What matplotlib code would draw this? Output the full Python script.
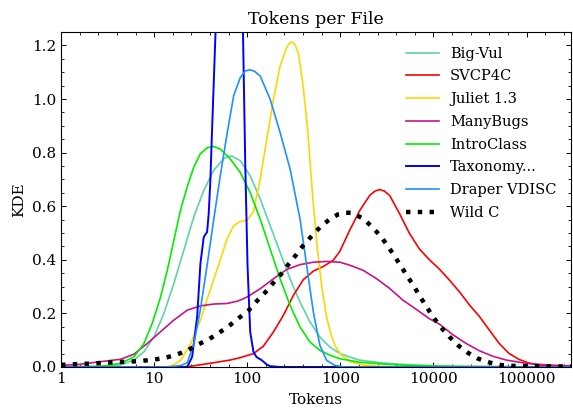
import numpy as np
import matplotlib
matplotlib.use("Agg")
import matplotlib.pyplot as plt
from matplotlib.ticker import AutoMinorLocator, FixedLocator

plt.rcParams['font.family'] = ['DejaVu Serif']

# x values are log10(tokens)
bigvul_x = [0.0, 0.4, 0.642, 0.784, 0.891, 0.998, 1.105, 1.212, 1.319, 1.426, 1.533, 1.64, 1.747, 1.79, 1.836, 1.925, 2.03, 2.139, 2.246, 2.353, 2.46, 2.567, 2.674, 2.78, 2.888, 2.995, 3.2, 3.45, 3.75, 4.2, 4.8, 5.48]
bigvul_y = [0.0, 0.002, 0.008, 0.026, 0.057, 0.113, 0.2, 0.312, 0.436, 0.56, 0.659, 0.734, 0.777, 0.786, 0.787, 0.77, 0.714, 0.627, 0.528, 0.428, 0.329, 0.242, 0.168, 0.112, 0.074, 0.05, 0.026, 0.015, 0.008, 0.003, 0.001, 0.0]

svcp4c_x = [0.0, 1.3, 1.40, 1.604, 1.818, 1.925, 2.067, 2.174, 2.28, 2.388, 2.495, 2.60, 2.71, 2.816, 2.923, 2.995, 3.1, 3.21, 3.315, 3.37, 3.42, 3.47, 3.53, 3.636, 3.743, 3.85, 3.957, 4.064, 4.17, 4.28, 4.39, 4.49, 4.6, 4.706, 4.81, 4.92, 5.03, 5.17, 5.48]
svcp4c_y = [0.0, 0.0, 0.003, 0.014, 0.026, 0.035, 0.05, 0.078, 0.13, 0.193, 0.267, 0.325, 0.358, 0.375, 0.398, 0.432, 0.51, 0.585, 0.64, 0.656, 0.662, 0.657, 0.64, 0.572, 0.498, 0.44, 0.40, 0.365, 0.325, 0.28, 0.23, 0.19, 0.138, 0.088, 0.051, 0.028, 0.014, 0.006, 0.003]

juliet_x = [0.0, 1.08, 1.176, 1.283, 1.39, 1.497, 1.604, 1.711, 1.783, 1.854, 1.925, 1.997, 2.067, 2.139, 2.21, 2.281, 2.353, 2.424, 2.45, 2.478, 2.51, 2.55, 2.60, 2.65, 2.70, 2.75, 2.80, 2.85, 2.90, 2.95, 3.0, 3.1, 3.25, 3.5, 5.48]
juliet_y = [0.0, 0.0, 0.002, 0.024, 0.085, 0.175, 0.29, 0.4, 0.478, 0.528, 0.543, 0.547, 0.58, 0.701, 0.85, 0.999, 1.124, 1.192, 1.207, 1.213, 1.205, 1.17, 1.05, 0.88, 0.65, 0.45, 0.30, 0.19, 0.12, 0.075, 0.048, 0.02, 0.007, 0.001, 0.0]

manybugs_x = [0.0, 0.2, 0.428, 0.642, 0.784, 0.927, 1.07, 1.212, 1.355, 1.497, 1.64, 1.78, 1.90, 1.997, 2.139, 2.281, 2.424, 2.567, 2.71, 2.852, 2.995, 3.1, 3.244, 3.387, 3.53, 3.67, 3.815, 3.957, 4.064, 4.21, 4.35, 4.49, 4.63, 4.78, 4.99, 5.24, 5.48]
manybugs_y = [0.006, 0.01, 0.02, 0.029, 0.048, 0.088, 0.132, 0.175, 0.212, 0.228, 0.235, 0.237, 0.246, 0.261, 0.292, 0.329, 0.364, 0.382, 0.391, 0.394, 0.391, 0.38, 0.361, 0.33, 0.293, 0.25, 0.215, 0.18, 0.16, 0.12, 0.088, 0.061, 0.041, 0.026, 0.014, 0.007, 0.004]

introclass_x = [0.0, 0.45, 0.642, 0.784, 0.891, 0.98, 1.07, 1.141, 1.212, 1.283, 1.355, 1.426, 1.497, 1.569, 1.64, 1.711, 1.818, 1.925, 2.03, 2.139, 2.246, 2.353, 2.46, 2.567, 2.674, 2.78, 2.888, 2.995, 3.2, 3.5, 3.8, 4.2, 5.48]
introclass_y = [0.0, 0.003, 0.014, 0.038, 0.088, 0.163, 0.262, 0.361, 0.473, 0.585, 0.672, 0.746, 0.796, 0.818, 0.823, 0.813, 0.776, 0.726, 0.652, 0.552, 0.44, 0.329, 0.23, 0.149, 0.093, 0.062, 0.044, 0.031, 0.018, 0.01, 0.005, 0.002, 0.0]

taxonomy_x = [0.0, 1.30, 1.355, 1.408, 1.462, 1.497, 1.533, 1.569, 1.586, 1.604, 1.622, 1.66, 1.80, 1.954, 1.979, 2.003, 2.032, 2.067, 2.1, 2.157, 2.21, 2.246, 2.35, 5.48]
taxonomy_y = [0.0, 0.0, 0.0, 0.038, 0.187, 0.386, 0.485, 0.504, 0.572, 0.697, 0.883, 1.255, 3.0, 1.255, 0.751, 0.379, 0.13, 0.056, 0.037, 0.025, 0.009, 0.003, 0.0, 0.0]

draper_x = [0.0, 1.1, 1.2, 1.29, 1.355, 1.426, 1.497, 1.569, 1.64, 1.711, 1.783, 1.854, 1.925, 1.98, 2.03, 2.08, 2.139, 2.246, 2.353, 2.46, 2.567, 2.638, 2.71, 2.78, 2.852, 2.94, 3.05, 5.48]
draper_y = [0.0, 0.0, 0.002, 0.006, 0.016, 0.085, 0.215, 0.38, 0.55, 0.715, 0.87, 1.012, 1.08, 1.105, 1.109, 1.103, 1.086, 0.999, 0.875, 0.739, 0.552, 0.379, 0.205, 0.081, 0.025, 0.006, 0.0, 0.0]

wildc_x = [0.0, 0.32, 0.59, 0.845, 0.98, 1.105, 1.23, 1.355, 1.46, 1.59, 1.711, 1.80, 1.907, 2.014, 2.10, 2.19, 2.28, 2.364, 2.44, 2.524, 2.60, 2.69, 2.78, 2.88, 2.977, 3.06, 3.126, 3.244, 3.34, 3.433, 3.51, 3.583, 3.654, 3.725, 3.797, 3.861, 3.93, 4.0, 4.075, 4.17, 4.27, 4.37, 4.48, 4.61, 4.73, 4.86, 5.0, 5.48]
wildc_y = [0.008, 0.013, 0.018, 0.022, 0.027, 0.033, 0.045, 0.061, 0.082, 0.104, 0.131, 0.152, 0.182, 0.211, 0.245, 0.277, 0.314, 0.347, 0.382, 0.418, 0.453, 0.488, 0.521, 0.55, 0.57, 0.576, 0.575, 0.554, 0.523, 0.488, 0.451, 0.413, 0.374, 0.336, 0.297, 0.26, 0.222, 0.185, 0.15, 0.113, 0.079, 0.053, 0.031, 0.016, 0.007, 0.004, 0.003, 0.002]

xtick_pos = [0, 1, 2, 3, 4, 5]
xtick_labels = ["1", "10", "100", "1000", "10000", "100000"]

series = [
    ("Big-Vul", bigvul_x, bigvul_y, "#5fd3a8", "-", 1.2),
    ("SVCP4C", svcp4c_x, svcp4c_y, "#ff0000", "-", 1.2),
    ("Juliet 1.3", juliet_x, juliet_y, "#ffd700", "-", 1.2),
    ("ManyBugs", manybugs_x, manybugs_y, "#c71585", "-", 1.2),
    ("IntroClass", introclass_x, introclass_y, "#00ee00", "-", 1.2),
    ("Taxonomy...", taxonomy_x, taxonomy_y, "#0000ff", "-", 1.4),
    ("Draper VDISC", draper_x, draper_y, "#1e90ff", "-", 1.2),
    ("Wild C", wildc_x, wildc_y, "#000000", ":", 3.2),
]

fig = plt.figure(figsize=(5.73, 4.08), dpi=100)
ax = fig.add_axes([0.1065, 0.1005, 0.8905, 0.821])

for name, xs, ys, c, ls, lw in series:
    ax.plot(xs, ys, color=c, linestyle=ls, linewidth=lw, label=name)

ax.set_xlim(0, 5.48)
ax.set_ylim(0, 1.25)
ax.xaxis.set_major_locator(FixedLocator(xtick_pos))
ax.set_xticklabels(xtick_labels)
ax.xaxis.set_minor_locator(AutoMinorLocator(5))
ax.yaxis.set_minor_locator(AutoMinorLocator(4))
ax.tick_params(which='both', direction='in', top=True, right=True, labelsize=11)
ax.tick_params(which='major', length=3.5, width=0.7)
ax.tick_params(which='minor', length=2, width=0.6)
for s in ax.spines.values():
    s.set_linewidth(0.8)

ax.set_xlabel("Tokens", fontsize=11, labelpad=5)
ax.set_ylabel("KDE", fontsize=11)
ax.set_title("Tokens per File", fontsize=12.5)

ax.legend(loc='upper right', frameon=False, fontsize=10.5, handlelength=2.2,
          labelspacing=0.6, borderaxespad=0.6)

fig.savefig("out.png", dpi=100)
